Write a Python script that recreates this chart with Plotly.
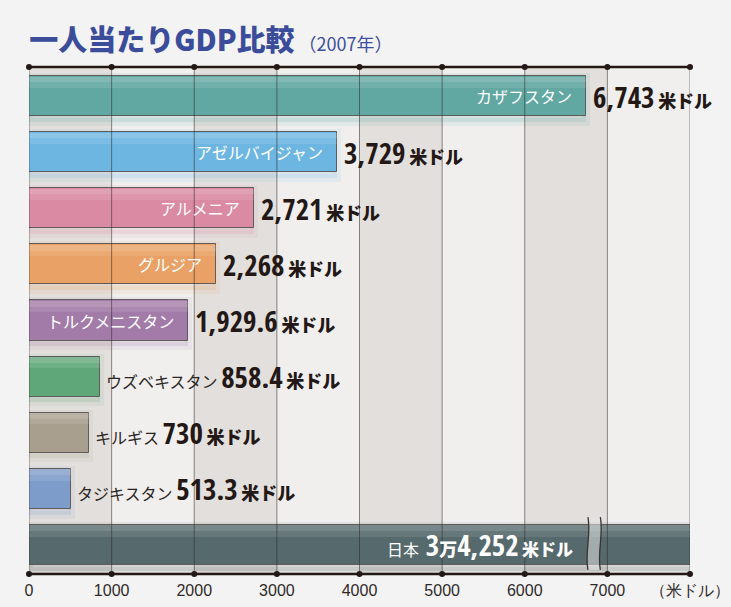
import plotly.graph_objects as go

# ---------------- data ----------------
countries = ["カザフスタン", "アゼルバイジャン", "アルメニア", "グルジア", "トルクメニスタン",
             "ウズベキスタン", "キルギス", "タジキスタン", "日本"]
gdp_usd = [6743, 3729, 2721, 2268, 1929.6, 858.4, 730, 513.3, 34252]
value_text = ["6,743", "3,729", "2,721", "2,268", "1,929.6", "858.4", "730", "513.3", "3万4,252"]
bar_colors = ["#61a7a2", "#6db6e1", "#da8ba3", "#e9a165", "#a27ba8",
              "#5fa779", "#a99f8e", "#7e9cca", "#56696c"]
tick_vals = [0, 1000, 2000, 3000, 4000, 5000, 6000, 7000, 8000]
tick_text = ["0", "1000", "2000", "3000", "4000", "5000", "6000", "7000", "（米ドル）"]
unit_label = "米ドル"
title_main = "一人当たりGDP比較"
title_sub = "（2007年）"

# ---------------- style ----------------
X_MAX = 8000
INSIDE_MIN = 1500          # bars longer than this carry their name inside
BREAK_X = 6840             # where the Japan bar is broken
JP = "Noto Sans CJK JP, Noto Sans, sans-serif"
NUM = "Open Sans Condensed, Roboto Condensed, sans-serif"
DARK = "#231815"
BAR_W = 0.714


def hex_rgba(h, a):
    h = h.lstrip("#")
    r, g, b = int(h[0:2], 16), int(h[2:4], 16), int(h[4:6], 16)
    return f"rgba({r},{g},{b},{a})"


fig = go.Figure()

# soft shadow under each bar
fig.add_trace(go.Bar(
    x=gdp_usd, y=countries, orientation="h",
    width=0.80, offset=-0.34,
    marker=dict(color=[hex_rgba(c, 0.18) for c in bar_colors],
                line=dict(color=[hex_rgba(c, 0.10) for c in bar_colors], width=8)),
    hoverinfo="skip", showlegend=False,
))
# main bars
fig.add_trace(go.Bar(
    x=gdp_usd, y=countries, orientation="h", width=BAR_W,
    marker=dict(color=bar_colors, line=dict(color="#5e5b5a", width=1)),
    hoverinfo="skip", showlegend=False,
))
# light sheen along the top edge of each bar
for w_, a_ in ((0.20, 0.10), (0.10, 0.12)):
    fig.add_trace(go.Bar(
        x=gdp_usd, y=countries, orientation="h", width=w_, offset=-BAR_W / 2 + 0.01,
        marker=dict(color=f"rgba(255,255,255,{a_})", line=dict(width=0)),
        hoverinfo="skip", showlegend=False,
    ))
# tick dots on the top and bottom axis lines
fig.add_trace(go.Scatter(
    x=tick_vals + tick_vals, y=[0] * len(tick_vals) + [1] * len(tick_vals),
    yaxis="y2", mode="markers", cliponaxis=False,
    marker=dict(color=DARK, size=6), hoverinfo="skip", showlegend=False,
))

shapes = []
# alternating column bands
for i in range(len(tick_vals) - 1):
    shapes.append(dict(type="rect", xref="x", yref="paper",
                       x0=tick_vals[i], x1=tick_vals[i + 1], y0=0, y1=1,
                       fillcolor="#e2dfdc" if i % 2 == 0 else "#f0efee",
                       line=dict(width=0), layer="below"))
# vertical grid lines (drawn over the bars, semi-transparent)
for t in tick_vals:
    shapes.append(dict(type="line", xref="x", yref="paper", x0=t, x1=t, y0=0, y1=1,
                       line=dict(color="rgba(50,40,38,0.55)", width=1), layer="above"))
# top and bottom axis lines
for yy in (0, 1):
    shapes.append(dict(type="line", xref="x", yref="paper", x0=0, x1=X_MAX, y0=yy, y1=yy,
                       line=dict(color=DARK, width=2.5), layer="above"))

# break mark on the Japan bar
bw, amp = 150, 40
yt, yb = 0.112, 0.008
ym1, ym2 = yt - (yt - yb) / 3, yt - 2 * (yt - yb) / 3
xl, xr = BREAK_X - bw / 2, BREAK_X + bw / 2
fill_path = (f"M {xl},{yt} C {xl+amp},{ym1} {xl-amp},{ym2} {xl},{yb} "
             f"L {xr},{yb} C {xr-amp},{ym2} {xr+amp},{ym1} {xr},{yt} Z")
shapes.append(dict(type="path", xref="x", yref="paper", path=fill_path,
                   fillcolor="rgba(225,228,228,0.55)", line=dict(width=0), layer="above"))
for xx in (xl, xr):
    shapes.append(dict(type="path", xref="x", yref="paper",
                       path=f"M {xx},{yt} C {xx+amp},{ym1} {xx-amp},{ym2} {xx},{yb}",
                       line=dict(color="#3a3332", width=1.3), layer="above"))

annotations = []


def value_html(v, color):
    return (f"<span style='font-family:{NUM};font-size:29px;font-weight:bold;color:{color}'>{v}</span>"
            f" <span style='font-family:{JP};font-size:18px;font-weight:900;color:{color}'>{unit_label}</span>")


for name, val, vt in zip(countries, gdp_usd, value_text):
    if val > X_MAX:
        # Japan: broken bar, white label inside
        txt = (f"<span style='font-size:16px'>{name}</span>  "
               f"<span style='font-family:{NUM};font-size:29px;font-weight:bold'>{vt[:1]}</span>"
               f"<span style='font-size:18px;font-weight:900'>{vt[1:2]}</span>"
               f"<span style='font-family:{NUM};font-size:29px;font-weight:bold'>{vt[2:]}</span>"
               f" <span style='font-size:17px;font-weight:900'>{unit_label}</span>")
        annotations.append(dict(x=BREAK_X - bw / 2, y=name, xref="x", yref="y", text=txt,
                                showarrow=False, xanchor="right", xshift=-13,
                                font=dict(family=JP, size=15, color="white")))
    elif val > INSIDE_MIN:
        annotations.append(dict(x=val, y=name, xref="x", yref="y", text=name,
                                showarrow=False, xanchor="right", xshift=-12,
                                font=dict(family=JP, size=16, color="white")))
        annotations.append(dict(x=val, y=name, xref="x", yref="y", text=value_html(vt, DARK),
                                showarrow=False, xanchor="left", xshift=5,
                                font=dict(family=JP, size=16, color=DARK)))
    else:
        annotations.append(dict(x=val, y=name, xref="x", yref="y",
                                text=f"<span style='color:#2b2523'>{name}</span> " + value_html(vt, DARK),
                                showarrow=False, xanchor="left", xshift=4,
                                font=dict(family=JP, size=16, color=DARK)))

fig.update_layout(
    width=731, height=607,
    margin=dict(l=29, r=41, t=67, b=33, autoexpand=False),
    paper_bgcolor="#f3f3f3", plot_bgcolor="#f0efee",
    barmode="overlay", bargap=0,
    title=dict(
        text=(f"<span style='font-weight:900'>{title_main}</span>"
              f"<span style='font-size:18px;color:#3e4f9c'> {title_sub}</span>"),
        x=0.04, xanchor="left", xref="container",
        y=0.933, yanchor="middle", yref="container",
        font=dict(family=JP, size=29, color="#3b4c9b"),
    ),
    xaxis=dict(range=[0, X_MAX], tickvals=tick_vals, ticktext=tick_text,
               showgrid=False, zeroline=False, showline=False, ticks="",
               automargin=False, ticklabelstandoff=5,
               tickfont=dict(family="Liberation Sans, Arial, sans-serif", size=16, color="#2f2a29"),
               fixedrange=True),
    yaxis=dict(categoryorder="array", categoryarray=countries,
               range=[len(countries) - 0.48, -0.52], showticklabels=False,
               automargin=False,
               showgrid=False, zeroline=False, fixedrange=True),
    yaxis2=dict(overlaying="y", range=[0, 1], visible=False, fixedrange=True),
    shapes=shapes,
    annotations=annotations,
)

fig.write_html("out.html", config={"displayModeBar": False},
               post_script="document.body.style.margin='0';")
